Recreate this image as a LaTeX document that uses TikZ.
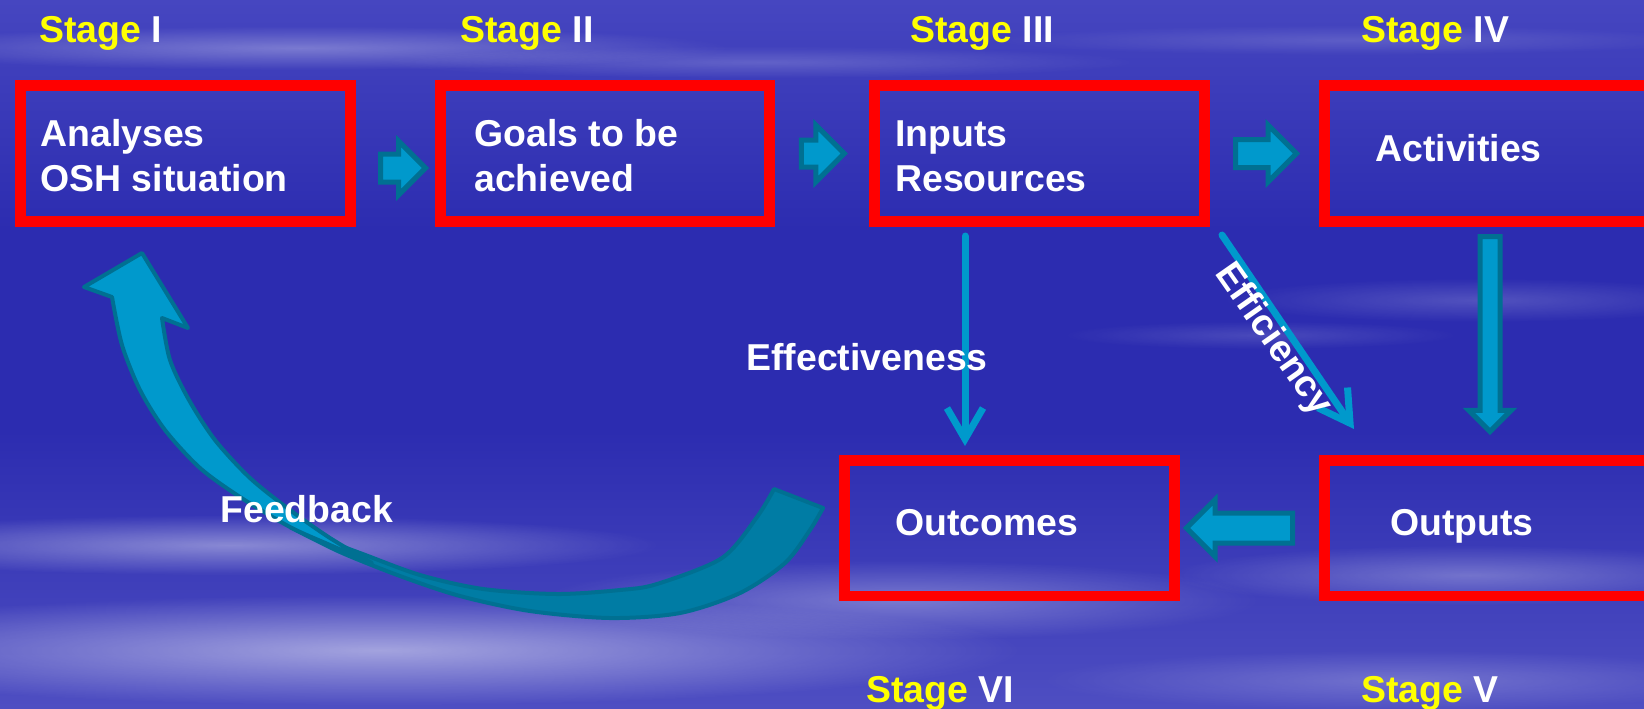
\documentclass[tikz,border=0pt]{standalone}
\usepackage{fontspec}
\setmainfont{Liberation Sans}
\usetikzlibrary{arrows.meta, shapes.arrows, fadings}

\definecolor{slideblue}{RGB}{44,44,176}
\definecolor{slidetop}{RGB}{70,70,192}
\definecolor{slidelow}{RGB}{78,78,194}
\definecolor{boxred}{RGB}{255,0,0}
\definecolor{stageyellow}{RGB}{255,255,0}
\definecolor{arrowfill}{RGB}{0,153,204}
\definecolor{arrowedge}{RGB}{0,112,146}
\definecolor{ribbon}{RGB}{0,124,164}

\tikzfading[name=haze, inner color=transparent!0, outer color=transparent!100]

\tikzset{
  stagebox/.style={draw=boxred, line width=0.22cm, minimum width=6.6cm, minimum height=2.72cm, inner sep=0},
  boxtext/.style={text=white, align=left, anchor=base west, inner sep=0},
  stagelab/.style={text=stageyellow, anchor=base west, inner sep=0},
  % #1 = half the shaft, #2 = head reach beyond the shaft
  blockarrow/.style 2 args={single arrow, draw=arrowedge, fill=arrowfill, line width=0.1cm,
    inner xsep=0, inner ysep=#1, outer sep=0, single arrow head extend=#2},
  linkarrow/.style={draw=arrowfill, line width=0.14cm, line cap=round,
    -{Straight Barb[length=0.62cm, width=0.72cm]}},
  cloud/.style={white, path fading=haze, fill opacity=#1},
}

\begin{document}
\begin{tikzpicture}[x=0.02cm, y=-0.02cm, font=\fontsize{21.3}{25.6}\selectfont\bfseries]
  \useasboundingbox (0,0) rectangle (1644,708);
  \clip (0,0) rectangle (1644,708);

  % sky and cloud streaks
  \fill[slideblue] (0,0) rectangle (1644,708);
  \shade[top color=slidetop, bottom color=slideblue] (0,0) rectangle (1644,230);
  \shade[top color=slideblue, bottom color=slidelow] (0,430) rectangle (1644,708);
  \fill[cloud=.30] (300,48) ellipse (430 and 22);
  \fill[cloud=.18] (760,62) ellipse (380 and 16);
  \fill[cloud=.15] (1350,40) ellipse (360 and 15);
  \fill[cloud=.18] (1480,300) ellipse (260 and 22);
  \fill[cloud=.14] (1260,335) ellipse (200 and 14);
  \fill[cloud=.40] (230,545) ellipse (430 and 30);
  \fill[cloud=.50] (380,650) ellipse (640 and 55);
  \fill[cloud=.30] (900,600) ellipse (360 and 40);
  \fill[cloud=.28] (1470,575) ellipse (300 and 30);
  \fill[cloud=.22] (1400,680) ellipse (360 and 30);

  % stage boxes
  \node[stagebox] (b1) at (185.5,153.5) {};
  \node[stagebox] (b2) at (605,153.5) {};
  \node[stagebox] (b3) at (1039.5,153.5) {};
  \node[stagebox] (b4) at (1489.5,153.5) {};
  \node[stagebox] (b5) at (1489.5,528) {};
  \node[stagebox] (b6) at (1009.5,528) {};

  \node[boxtext] (t1) at (40,191) {Analyses\\OSH situation};
  \node[boxtext] (t2) at (474,191) {Goals to be\\achieved};
  \node[boxtext] (t3) at (895,191) {Inputs\\Resources};
  \node[boxtext] (t4) at (1375,161) {Activities};
  \node[boxtext] (t5) at (1390,535) {Outputs};
  \node[boxtext] (t6) at (895,535) {Outcomes};

  \node[stagelab] (s1) at (39,42) {Stage \textcolor{white}{I}};
  \node[stagelab] (s2) at (460,42) {Stage \textcolor{white}{II}};
  \node[stagelab] (s3) at (910,42) {Stage \textcolor{white}{III}};
  \node[stagelab] (s4) at (1361,42) {Stage \textcolor{white}{IV}};
  \node[stagelab] (s5) at (1361,702) {Stage \textcolor{white}{V}};
  \node[stagelab] (s6) at (866,702) {Stage \textcolor{white}{VI}};

  % block arrows between the stages
  \node[blockarrow={0.23cm}{0.26cm}, minimum height=0.9cm] (a12) at (396,168) {};
  \node[blockarrow={0.22cm}{0.3cm}, minimum height=0.86cm] (a23) at (816,153.5) {};
  \node[blockarrow={0.23cm}{0.29cm}, minimum height=1.22cm] (a34) at (1259,153.5) {};
  \node[blockarrow={0.15cm}{0.22cm}, minimum height=3.9cm, rotate=-90] (a45) at (1490,329) {};
  \node[blockarrow={0.25cm}{0.27cm}, minimum height=2.12cm, rotate=180] (a56) at (1247,528) {};

  % thin links out of the inputs
  \coordinate (effTop) at (965,236);
  \coordinate (effEnd) at (965,446);
  \coordinate (efcTop) at (1222,235);
  \coordinate (efcEnd) at (1354,429);
  \draw[linkarrow] (effTop) -- (effEnd);
  \draw[linkarrow] (efcTop) -- (efcEnd);

  % feedback ribbon, back face first
  \filldraw[fill=ribbon, draw=arrowedge, line width=0.08cm, line join=round]
    plot[smooth] coordinates {(290,527) (340,552) (400,576) (460,596) (530,611) (610,618)
      (680,613) (740,593) (785,563) (810,530) (823,508)}
    -- (774,489)
    -- plot[smooth] coordinates {(774,489) (757,517) (722,558) (657,584) (620,590)
      (557,594) (483,589) (420,575) (360,553) (290,527)}
    -- cycle;
  % front face with the head
  \filldraw[fill=arrowfill, draw=arrowedge, line width=0.08cm, line join=round]
    plot[smooth] coordinates {(372,563) (330,545) (290,527) (240,497) (200,468)
      (165,430) (140,390) (122,345) (112,297)}
    -- (84,287) -- (142,253) -- (188,328) -- (162,318)
    -- plot[smooth] coordinates {(162,318) (170,360) (189,400) (215,440) (250,478)
      (290,510) (330,538) (372,563)}
    -- cycle;

  % link labels
  \node[boxtext] (lEff) at (746,370) {Effectiveness};
  \node[text=white, inner sep=0, rotate=-55] (lEfc) at (1273,340) {Efficiency};
  \node[boxtext] (lFb) at (220,522) {Feedback};
\end{tikzpicture}
\end{document}
